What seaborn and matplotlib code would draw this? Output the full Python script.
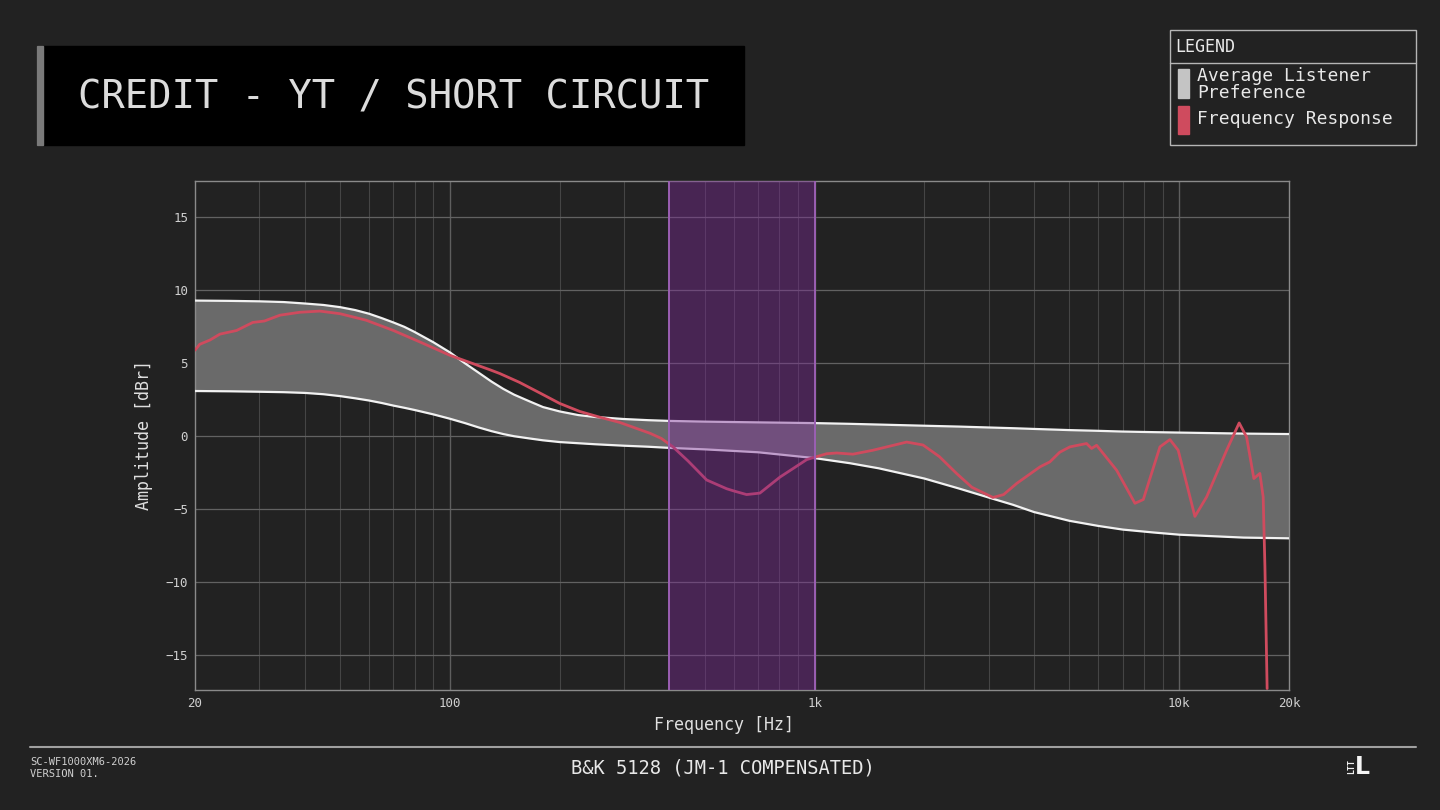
import numpy as np
import matplotlib
matplotlib.use("Agg")
import matplotlib.pyplot as plt
from matplotlib.patches import Rectangle
from matplotlib.lines import Line2D
import seaborn as sns

# preference band (upper / lower edge), dBr
band_freqs = [20, 25, 30, 35, 40, 45, 50, 55, 60, 65, 70, 75, 80, 90, 100, 110, 120, 130, 140, 150,
              165, 180, 200, 225, 250, 300, 350, 400, 500, 700, 1000, 1250, 1500, 2000, 2500, 3000,
              3500, 4000, 5000, 6000, 7000, 8500, 10000, 15000, 20000]
band_upper = [9.3, 9.28, 9.25, 9.2, 9.1, 9.0, 8.85, 8.65, 8.4, 8.1, 7.8, 7.5, 7.15, 6.45, 5.75, 5.0,
              4.35, 3.75, 3.25, 2.85, 2.4, 2.0, 1.7, 1.45, 1.32, 1.18, 1.1, 1.05, 1.0, 0.95, 0.9, 0.85,
              0.8, 0.72, 0.66, 0.6, 0.55, 0.5, 0.42, 0.37, 0.32, 0.28, 0.25, 0.18, 0.15]
band_lower = [3.1, 3.08, 3.05, 3.02, 2.97, 2.88, 2.75, 2.6, 2.45, 2.28, 2.1, 1.95, 1.8, 1.5, 1.2, 0.9,
              0.6, 0.35, 0.15, 0.0, -0.15, -0.28, -0.4, -0.48, -0.55, -0.65, -0.72, -0.8, -0.9, -1.1,
              -1.5, -1.85, -2.2, -2.9, -3.6, -4.2, -4.7, -5.2, -5.8, -6.15, -6.4, -6.6, -6.75, -6.95, -7.0]

# measured frequency response
fr_freqs = [20, 20.6, 22, 23.4, 26, 28.8, 31, 34.2, 38.8, 44, 50, 59, 70, 83, 100, 129, 137, 155, 177, 200,
            227, 258, 292, 332, 354, 380, 409, 450, 506, 574, 600, 651, 708, 804, 900, 952, 1079, 1150,
            1274, 1446, 1789, 1983, 2200, 2453, 2700, 3085, 3300, 3582, 4151, 4418, 4700, 5013, 5571,
            5750, 5936, 6734, 7561, 7970, 8853, 9430, 9935, 11040, 11890, 13490, 14600, 15300,
            16020, 16640, 16990, 17180, 17420]
fr_db = [5.9, 6.3, 6.6, 7.0, 7.25, 7.8, 7.9, 8.3, 8.5, 8.58, 8.4, 7.95, 7.25, 6.45, 5.55, 4.55, 4.3, 3.7, 2.95,
         2.25, 1.7, 1.3, 0.95, 0.45, 0.2, -0.15, -0.73, -1.7, -3.0, -3.6, -3.75, -4.0, -3.9, -2.8, -2.0,
         -1.6, -1.2, -1.15, -1.23, -0.96, -0.4, -0.6, -1.4, -2.56, -3.5, -4.2, -4.0, -3.24, -2.1, -1.76,
         -1.1, -0.73, -0.5, -0.84, -0.62, -2.33, -4.6, -4.34, -0.73, -0.23, -0.96, -5.5, -4.16, -0.96,
         0.91, -0.05, -2.9, -2.55, -4.16, -8.95, -17.3]

x_ticks = [20, 100, 1000, 10000, 20000]
x_tick_labels = ["20", "100", "1k", "10k", "20k"]
y_ticks = [-15, -10, -5, 0, 5, 10, 15]
highlight = (400, 1000)

BG = "#222222"
RED = "#cf4b5e"
MONO = ["DejaVu Sans Mono"]

sns.set_theme(style="dark")
plt.rcParams["font.family"] = MONO

fig = plt.figure(figsize=(14.4, 8.1), dpi=100)
fig.patch.set_facecolor(BG)
ax = fig.add_axes([195 / 1440, 1 - 690 / 810, 1094 / 1440, 509 / 810])
ax.set_facecolor(BG)

ax.set_xscale("log")
ax.set_xlim(20, 20000)
ax.set_ylim(-17.4, 17.5)

# grid
minor = [m * d for d in (10, 100, 1000) for m in range(2, 10) if 20 < m * d < 20000]
for f in minor:
    ax.axvline(f, color="#454545", lw=0.8, zorder=1)
for f in (100, 1000, 10000):
    ax.axvline(f, color="#5e5e5e", lw=1.0, zorder=1)
for y in y_ticks:
    ax.axhline(y, color="#626262", lw=0.9, zorder=1)

# preference band
ax.fill_between(band_freqs, band_lower, band_upper, color="#6a6a6a", lw=0, zorder=2)
sns.lineplot(x=band_freqs, y=band_upper, ax=ax, color="#f2f2f2", lw=1.6, zorder=3)
sns.lineplot(x=band_freqs, y=band_lower, ax=ax, color="#f2f2f2", lw=1.6, zorder=3)

# frequency response
sns.lineplot(x=fr_freqs, y=fr_db, ax=ax, color=RED, lw=2, zorder=4)

# highlighted region
ax.axvspan(*highlight, color="#7d2a98", alpha=0.42, lw=0, zorder=5)
for f in highlight:
    ax.axvline(f, color="#9b5fb3", lw=1.4, zorder=5)

ax.set_xticks(x_ticks)
ax.set_xticklabels(x_tick_labels)
ax.set_xticks([], minor=True)
ax.set_yticks(y_ticks)
ax.tick_params(axis="both", colors="#d0d0d0", labelsize=9, length=0, pad=5)
for s in ax.spines.values():
    s.set_color("#8a8a8a")
    s.set_linewidth(1)
    s.set_visible(True)
ax.grid(False)

ax.set_xlabel("Frequency [Hz]", color="#e0e0e0", fontsize=12)
ax.xaxis.set_label_coords((724 - 195) / 1094, -0.052)
ax.set_ylabel("Amplitude [dBr]", color="#e0e0e0", fontsize=12)
ax.yaxis.set_label_coords(-0.038, 0.5)

# title box
fig.add_artist(Rectangle((37 / 1440, 1 - 145 / 810), 707 / 1440, 99 / 810,
                         transform=fig.transFigure, color="black", zorder=1))
fig.add_artist(Rectangle((37 / 1440, 1 - 145 / 810), 6 / 1440, 99 / 810,
                         transform=fig.transFigure, color="#7a7a7a", zorder=2))
fig.text(78 / 1440, 1 - 97 / 810, "CREDIT - YT / SHORT CIRCUIT", color="#dcdcdc",
         fontsize=28, va="center", ha="left")

# legend box
fig.add_artist(Rectangle((1170 / 1440, 1 - 145 / 810), 246 / 1440, 115 / 810,
                         transform=fig.transFigure, fill=False, edgecolor="#b5b5b5", lw=1))
fig.add_artist(Line2D([1170 / 1440, 1416 / 1440], [1 - 63 / 810, 1 - 63 / 810],
                      transform=fig.transFigure, color="#b5b5b5", lw=1))
fig.text(1175 / 1440, 1 - 47 / 810, "LEGEND", color="#e8e8e8", fontsize=12, va="center")
fig.add_artist(Rectangle((1178 / 1440, 1 - 98 / 810), 11 / 1440, 29 / 810,
                         transform=fig.transFigure, color="#c4c4c4"))
fig.add_artist(Rectangle((1178 / 1440, 1 - 134 / 810), 11 / 1440, 28 / 810,
                         transform=fig.transFigure, color=RED))
fig.text(1197 / 1440, 1 - 76 / 810, "Average Listener", color="#e8e8e8", fontsize=13, va="center")
fig.text(1197 / 1440, 1 - 93 / 810, "Preference", color="#e8e8e8", fontsize=13, va="center")
fig.text(1197 / 1440, 1 - 119 / 810, "Frequency Response", color="#e8e8e8", fontsize=13, va="center")

# footer
fig.add_artist(Line2D([30 / 1440, 1416 / 1440], [1 - 747 / 810, 1 - 747 / 810],
                      transform=fig.transFigure, color="#a0a0a0", lw=1.5))
fig.text(30 / 1440, 1 - 762 / 810, "SC-WF1000XM6-2026", color="#d0d0d0", fontsize=7.5, va="center")
fig.text(30 / 1440, 1 - 774 / 810, "VERSION 01.", color="#d0d0d0", fontsize=7.5, va="center")
fig.text(723 / 1440, 1 - 768 / 810, "B&K 5128 (JM-1 COMPENSATED)", color="#e8e8e8",
         fontsize=13.5, va="center", ha="center")
fig.text(1352 / 1440, 1 - 767 / 810, "LTT", color="#f0f0f0", fontsize=6, rotation=90,
         va="center", ha="center", fontweight="bold")
fig.text(1362 / 1440, 1 - 767 / 810, "L", color="#f5f5f5", fontsize=17, va="center",
         ha="center", fontweight="bold", family=["DejaVu Sans"])

fig.savefig("out.png", dpi=100, facecolor=BG)
